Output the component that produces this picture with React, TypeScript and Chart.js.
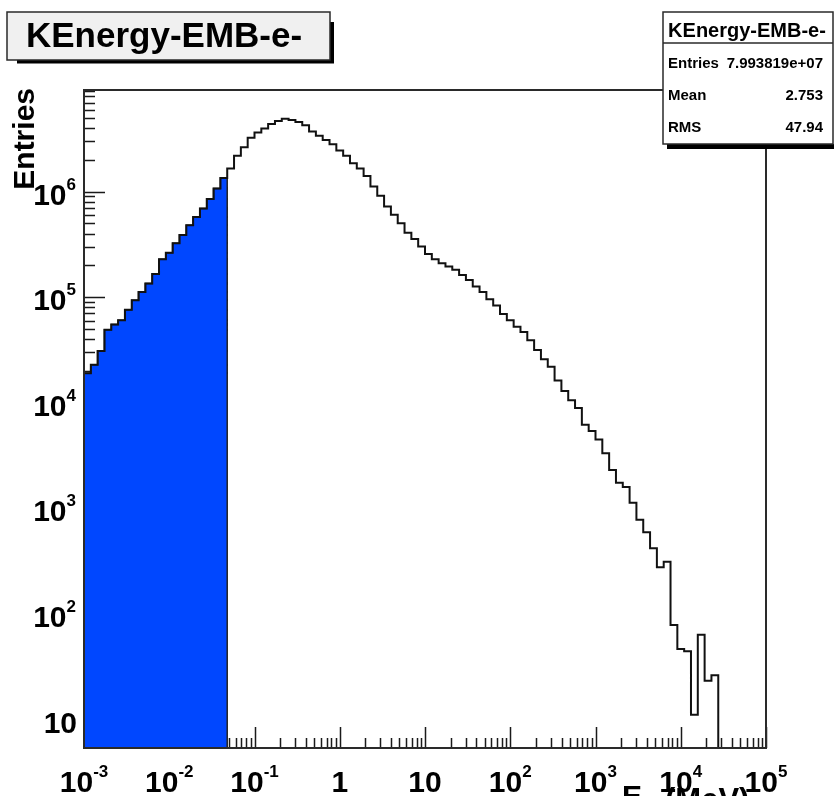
import React, { useEffect, useRef } from 'react';
import { Chart, registerables } from 'chart.js';

Chart.register(...registerables);

// ---------- data ----------
const histTitle = 'KEnergy-EMB-e-';
const yAxisTitle = 'Entries';
const xAxisTitleMain = 'E';
const xAxisTitleSub = 'k';
const xAxisTitleUnit = '(MeV)';

const xMin = 1e-3;
const xMax = 1e5;
const nBins = 100;
const yMin = 5.31;
const yMax = 9.2e6;

// entries per log-spaced bin
const binCounts = [
  19000, 22900, 30900, 49000, 55000, 60300, 75900, 93300, 112000, 135000,
  166000, 229000, 263000, 324000, 389000, 479000, 575000, 692000, 851000, 1070000,
  1350000, 1660000, 2190000, 2630000, 3240000, 3630000, 3980000, 4370000, 4680000, 4900000,
  4790000, 4570000, 4270000, 3720000, 3390000, 3090000, 2820000, 2450000, 2190000, 1860000,
  1660000, 1410000, 1120000, 912000, 724000, 603000, 501000, 407000, 355000, 302000,
  257000, 229000, 209000, 195000, 182000, 162000, 145000, 126000, 112000, 95500,
  83200, 69200, 60300, 52500, 46800, 38900, 31600, 25700, 21900, 16200,
  12900, 10500, 8910, 6170, 5370, 4470, 3310, 2290, 1740, 1580,
  1120, 776, 589, 417, 275, 309, 78, 46, 44, 11,
  63, 23, 26, 0, 0, 0, 0, 0, 0, 0,
];
const filledBins = 21;

const xTickValues = [1e-3, 1e-2, 1e-1, 1, 10, 1e2, 1e3, 1e4, 1e5];
const xTickLabels = ['10^-3', '10^-2', '10^-1', '1', '10', '10^2', '10^3', '10^4', '10^5'];
const yTickValues = [10, 1e2, 1e3, 1e4, 1e5, 1e6];
const yTickLabels = ['10', '10^2', '10^3', '10^4', '10^5', '10^6'];

const statsLabels = ['Entries', 'Mean', 'RMS'];
const statsValues = ['7.993819e+07', '2.753', '47.94'];

// ---------- helpers ----------
const FONT = '"Liberation Sans", Arial, Helvetica, sans-serif';

function binEdge(i: number) {
  const lo = Math.log10(xMin);
  const hi = Math.log10(xMax);
  return Math.pow(10, lo + ((hi - lo) * i) / nBins);
}

// empty bins sit on the axis floor (log scale cannot show 0)
function floorValue(v: number) {
  return v > yMin ? v : yMin;
}

function histPoints(counts: number[], upto: number) {
  const pts: { x: number; y: number }[] = [];
  for (let i = 0; i < upto; i++) pts.push({ x: binEdge(i), y: floorValue(counts[i]) });
  pts.push({ x: binEdge(upto), y: yMin });
  return pts;
}

function drawExpLabel(
  ctx: CanvasRenderingContext2D,
  text: string,
  x: number,
  y: number,
  align: 'left' | 'center' | 'right',
  mainSize: number,
  supSize: number,
  supRise: number
) {
  const [base, exp] = text.split('^');
  const mainFont = `bold ${mainSize}px ${FONT}`;
  const supFont = `bold ${supSize}px ${FONT}`;
  ctx.font = mainFont;
  const wb = ctx.measureText(base).width;
  let we = 0;
  if (exp) {
    ctx.font = supFont;
    we = ctx.measureText(exp).width;
  }
  const total = wb + we;
  const x0 = align === 'center' ? x - total / 2 : align === 'right' ? x - total : x;
  ctx.textAlign = 'left';
  ctx.textBaseline = 'alphabetic';
  ctx.font = mainFont;
  ctx.fillText(base, x0, y);
  if (exp) {
    ctx.font = supFont;
    ctx.fillText(exp, x0 + wb, y - supRise);
  }
}

const rootPlugin = {
  id: 'rootStyle',
  beforeDraw(chart: any) {
    const { ctx, width, height } = chart;
    ctx.save();
    ctx.fillStyle = '#ffffff';
    ctx.fillRect(0, 0, width, height);
    ctx.restore();
  },
  beforeDatasetsDraw(chart: any) {
    const { ctx, chartArea: a, scales } = chart;
    const xs = scales.x;
    const ys = scales.y;
    ctx.save();
    ctx.strokeStyle = '#1a1a1a';
    ctx.lineWidth = 1.5;
    ctx.beginPath();
    for (let k = -3; k <= 5; k++) {
      for (let m = 1; m <= 9; m++) {
        const v = m * Math.pow(10, k);
        if (v < xMin * 0.999 || v > xMax * 1.001) continue;
        const px = Math.round(xs.getPixelForValue(v)) + 0.5;
        const len = m === 1 ? 21 : 10;
        ctx.moveTo(px, a.bottom);
        ctx.lineTo(px, a.bottom - len);
      }
    }
    for (let k = 0; k <= 7; k++) {
      for (let m = 1; m <= 9; m++) {
        const v = m * Math.pow(10, k);
        if (v < yMin || v > yMax) continue;
        const py = Math.round(ys.getPixelForValue(v)) + 0.5;
        const len = m === 1 ? 21 : 11;
        ctx.moveTo(a.left, py);
        ctx.lineTo(a.left + len, py);
      }
    }
    ctx.stroke();
    ctx.restore();
  },
  afterDatasetsDraw(chart: any) {
    const { ctx, chartArea: a, scales } = chart;
    const xs = scales.x;
    const ys = scales.y;
    ctx.save();

    // frame
    ctx.strokeStyle = '#2a2a2a';
    ctx.lineWidth = 2;
    ctx.strokeRect(a.left, a.top, a.right - a.left, a.bottom - a.top);

    ctx.fillStyle = '#000000';
    // x tick labels
    xTickValues.forEach((v, i) => {
      const px = xs.getPixelForValue(v);
      drawExpLabel(ctx, xTickLabels[i], px, 792, 'center', 30, 17, 15);
    });
    // y tick labels
    yTickValues.forEach((v, i) => {
      const py = ys.getPixelForValue(v);
      const lbl = yTickLabels[i];
      if (lbl.indexOf('^') >= 0) drawExpLabel(ctx, lbl, 76, py + 13, 'right', 30, 17, 15);
      else drawExpLabel(ctx, lbl, 77, py + 14, 'right', 30, 17, 15);
    });

    // y axis title
    ctx.save();
    ctx.translate(34, 88);
    ctx.rotate(-Math.PI / 2);
    ctx.font = `bold 30px ${FONT}`;
    ctx.textAlign = 'right';
    ctx.textBaseline = 'alphabetic';
    ctx.fillText(yAxisTitle, 0, 0);
    ctx.restore();

    // x axis title (partly clipped at the bottom)
    ctx.textAlign = 'left';
    ctx.font = `bold 30px ${FONT}`;
    ctx.fillText(xAxisTitleMain, 622, 806);
    ctx.font = `bold 20px ${FONT}`;
    ctx.fillText(xAxisTitleSub, 643, 812);
    ctx.font = `bold 31px ${FONT}`;
    ctx.fillText(xAxisTitleUnit, 665, 810);

    // title pave
    ctx.fillStyle = '#000000';
    ctx.fillRect(17, 22, 317, 41.5);
    ctx.fillStyle = '#f0f0f0';
    ctx.fillRect(7, 12, 323, 48);
    ctx.strokeStyle = '#2a2a2a';
    ctx.lineWidth = 1.5;
    ctx.strokeRect(7, 12, 323, 48);
    ctx.fillStyle = '#000000';
    ctx.font = `bold 35px ${FONT}`;
    ctx.textAlign = 'left';
    ctx.fillText(histTitle, 26, 47);

    // stats box
    ctx.fillStyle = '#000000';
    ctx.fillRect(667, 22, 170, 127);
    ctx.fillStyle = '#ffffff';
    ctx.fillRect(663, 12, 172, 132);
    ctx.strokeStyle = '#2a2a2a';
    ctx.lineWidth = 1.5;
    ctx.strokeRect(663, 12, 170, 132);
    ctx.beginPath();
    ctx.moveTo(663, 43);
    ctx.lineTo(833, 43);
    ctx.stroke();
    ctx.fillStyle = '#000000';
    ctx.font = `bold 20px ${FONT}`;
    ctx.textAlign = 'center';
    ctx.fillText(histTitle, 747, 37);
    ctx.font = `bold 15px ${FONT}`;
    statsLabels.forEach((lbl, i) => {
      const yb = 68 + i * 32;
      ctx.textAlign = 'left';
      ctx.fillText(lbl, 668, yb);
      ctx.textAlign = 'right';
      ctx.fillText(statsValues[i], 823, yb);
    });

    ctx.restore();
  },
};

export default function App() {
  const canvasRef = useRef<HTMLCanvasElement | null>(null);

  useEffect(() => {
    const canvas = canvasRef.current;
    if (!canvas) return;
    const chart = new Chart(canvas, {
      type: 'line',
      data: {
        datasets: [
          {
            label: 'histogram',
            data: histPoints(binCounts, nBins),
            borderColor: '#111111',
            borderWidth: 2,
            pointRadius: 0,
            stepped: true,
            fill: false,
            order: 0,
          },
          {
            label: 'filled',
            data: histPoints(binCounts, filledBins),
            borderColor: '#222222',
            borderWidth: 1.5,
            backgroundColor: '#0047ff',
            pointRadius: 0,
            stepped: true,
            fill: 'start',
            order: 1,
          },
        ],
      },
      options: {
        responsive: false,
        animation: false,
        devicePixelRatio: 1,
        layout: { padding: { left: 84, top: 90, right: 68, bottom: 48 } },
        scales: {
          x: { type: 'logarithmic', min: xMin, max: xMax, display: false },
          y: { type: 'logarithmic', min: yMin, max: yMax, display: false },
        },
        plugins: {
          legend: { display: false },
          tooltip: { enabled: false },
          title: { display: false },
        },
      },
      plugins: [rootPlugin],
    });
    return () => chart.destroy();
  }, []);

  return (
    <div style={{ position: 'absolute', left: 0, top: 0, width: 834, height: 796, overflow: 'hidden', background: '#fff' }}>
      <canvas ref={canvasRef} width={834} height={796} style={{ display: 'block', width: 834, height: 796 }} />
    </div>
  );
}
